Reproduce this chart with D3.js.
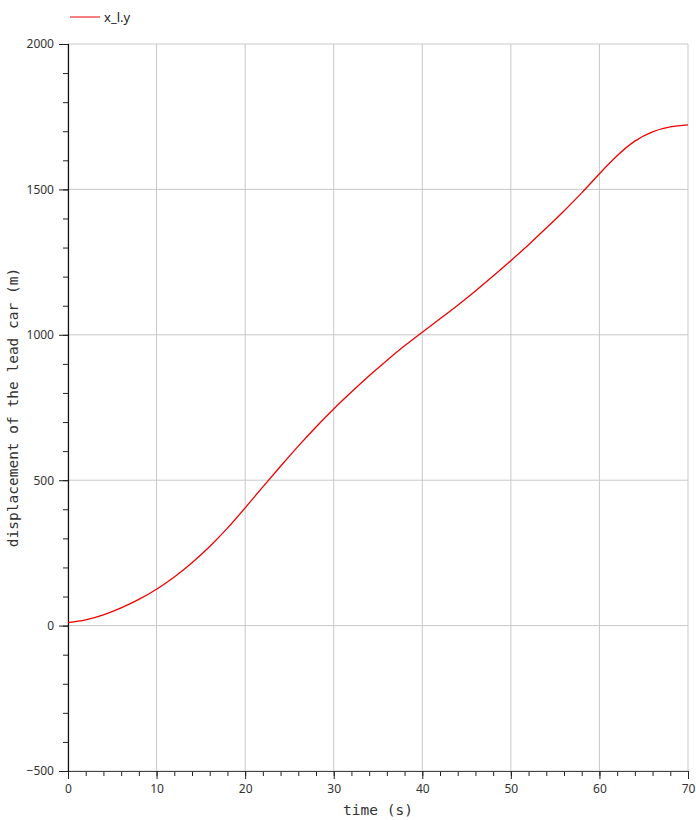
<!DOCTYPE html>
<html>
<head>
<meta charset="utf-8">
<script src="https://cdn.jsdelivr.net/npm/d3@7"></script>
<style>
  body { margin: 0; background: #fff; }
  .tick text { font-family: "Noto Sans", sans-serif; font-size: 12px; fill: #333; }
  .axis-title { font-family: "DejaVu Sans Mono", monospace; font-size: 14.5px; fill: #333; }
  .legend text { font-family: "Noto Sans", sans-serif; font-size: 13px; fill: #222; }
</style>
</head>
<body>
<svg id="chart"></svg>
<script>
const time = [0, 2, 4, 6, 8, 10, 12, 14, 16, 18, 20, 22, 24, 26, 28, 30, 32, 34,
  36, 38, 40, 42, 44, 46, 48, 50, 52, 54, 56, 58, 60, 62, 64, 66, 68, 70];
const displacement = [10, 20, 37, 61, 90, 125, 167, 216, 272, 335, 405, 477, 548, 617,
  683, 745, 803, 859, 912, 962, 1009, 1055, 1102, 1151, 1202, 1255, 1310, 1367, 1426,
  1488, 1554, 1616, 1666, 1698, 1715, 1722];
const xTicks = [0, 10, 20, 30, 40, 50, 60, 70];
const yTicks = [-500, 0, 500, 1000, 1500, 2000];
const seriesName = 'x_l.y';

const width = 696, height = 820;
const margin = { top: 44, right: 8, bottom: 49, left: 68 };
const w = width - margin.left - margin.right;
const h = height - margin.top - margin.bottom;

const svg = d3.select('#chart').attr('width', width).attr('height', height);
const g = svg.append('g').attr('transform', `translate(${margin.left},${margin.top})`);

const x = d3.scaleLinear().domain([0, 70]).range([0, w]);
const y = d3.scaleLinear().domain([-500, 2000]).range([h, 0]);

// grid
g.append('g')
  .selectAll('line')
  .data(xTicks)
  .enter().append('line')
  .attr('x1', d => x(d)).attr('x2', d => x(d))
  .attr('y1', 0).attr('y2', h)
  .attr('stroke', '#c8c8c8');
g.append('g')
  .selectAll('line')
  .data(yTicks)
  .enter().append('line')
  .attr('x1', 0).attr('x2', w)
  .attr('y1', d => y(d)).attr('y2', d => y(d))
  .attr('stroke', '#c8c8c8');

// minor ticks, every 2 s and every 100 m
const xMinor = d3.range(0, 70.01, 2);
const yMinor = d3.range(-500, 2000.01, 100);

const xMinorG = g.append('g').attr('transform', `translate(0,${h})`)
  .call(d3.axisBottom(x).tickValues(xMinor).tickSize(5).tickFormat(''));
xMinorG.select('.domain').remove();
xMinorG.selectAll('.tick line').attr('stroke', '#222');

const yMinorG = g.append('g')
  .call(d3.axisLeft(y).tickValues(yMinor).tickSize(5).tickFormat(''));
yMinorG.select('.domain').remove();
yMinorG.selectAll('.tick line').attr('stroke', '#222');

const xAxisG = g.append('g').attr('transform', `translate(0,${h})`)
  .call(d3.axisBottom(x).tickValues(xTicks).tickSize(8).tickPadding(5).tickFormat(d3.format('d')));
xAxisG.select('.domain').attr('stroke', '#444');
xAxisG.selectAll('.tick line').attr('stroke', '#222');

const yAxisG = g.append('g')
  .call(d3.axisLeft(y).tickValues(yTicks).tickSize(9).tickPadding(5).tickFormat(d3.format('d')));
yAxisG.select('.domain').attr('stroke', '#111').attr('stroke-width', 1.2);
yAxisG.selectAll('.tick line').attr('stroke', '#222');

// the curve
const line = d3.line()
  .x((d, i) => x(time[i]))
  .y(d => y(d))
  .curve(d3.curveNatural);

g.append('path')
  .datum(displacement)
  .attr('fill', 'none')
  .attr('stroke', '#ee0000')
  .attr('stroke-width', 1.3)
  .attr('d', line);

// axis titles
svg.append('text')
  .attr('class', 'axis-title')
  .attr('x', margin.left + w / 2)
  .attr('y', 815)
  .attr('text-anchor', 'middle')
  .text('time (s)');

svg.append('text')
  .attr('class', 'axis-title')
  .attr('transform', `translate(18,${margin.top + h / 2}) rotate(-90)`)
  .attr('text-anchor', 'middle')
  .text('displacement of the lead car (m)');

// legend
const legend = svg.append('g').attr('class', 'legend');
legend.append('line')
  .attr('x1', 70).attr('x2', 100)
  .attr('y1', 17).attr('y2', 17)
  .attr('stroke', '#ee0000');
legend.append('text')
  .attr('x', 104).attr('y', 22)
  .text(seriesName);
</script>
</body>
</html>
